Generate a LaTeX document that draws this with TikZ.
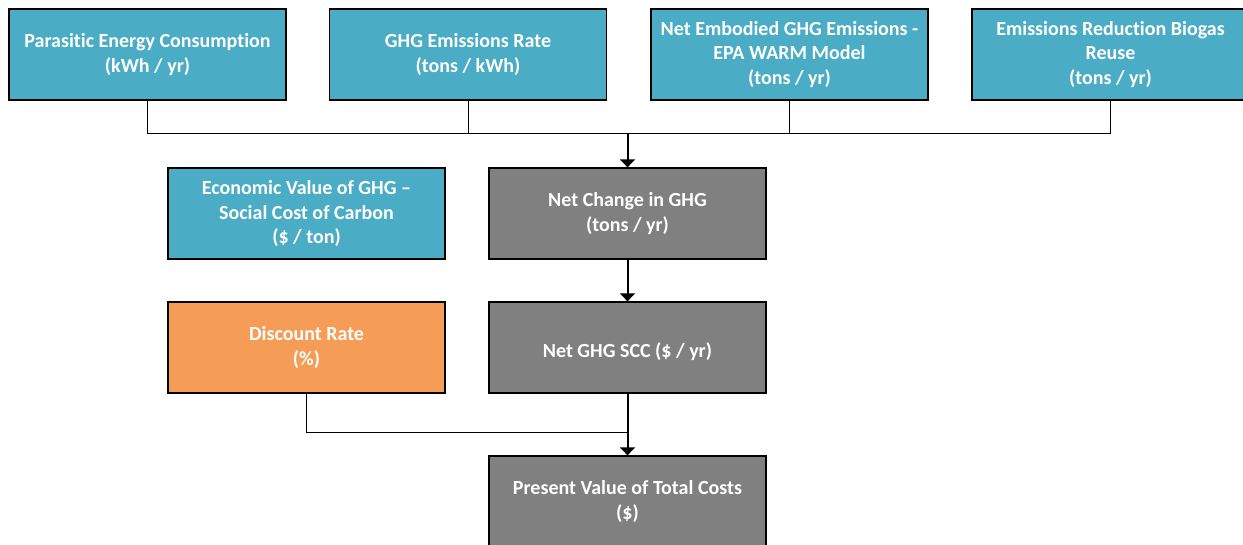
\documentclass[tikz,border=0pt]{standalone}
\usepackage{fontspec}
\setmainfont{Carlito}[RawFeature=-liga]
\usetikzlibrary{arrows.meta}
\definecolor{tealbox}{HTML}{4BACC6}
\definecolor{orangebox}{HTML}{F59D56}
\definecolor{graybox}{HTML}{808080}
\tikzset{
  box/.style={draw=black, line width=1.3pt, minimum width=277pt, minimum height=91pt,
    inner sep=0pt, align=center, text=white,
    font=\fontsize{20}{24.5}\selectfont\bfseries,
    execute at begin node={\rule{0pt}{23pt}}},
  inbox/.style={box, fill=tealbox},
  ratebox/.style={box, fill=orangebox},
  calcbox/.style={box, fill=graybox},
  wire/.style={draw=black, line width=1pt},
  feed/.style={draw=black, line width=2pt, -{Triangle[width=15pt,length=8pt]}},
}
\begin{document}
\begin{tikzpicture}[x=1pt, y=-1pt]
\useasboundingbox (0,0) rectangle (1243,545);

% input quantities
\node[inbox] (pec) at (147.5,54.5) {Parasitic Energy Consumption\\(kWh / yr)};
\node[inbox] (rate) at (468,54.5) {GHG Emissions Rate\\(tons / kWh)};
\node[inbox] (warm) at (789.5,54.5) {Net Embodied GHG Emissions -\\EPA WARM Model\\(tons / yr)};
\node[inbox] (bio) at (1110.5,54.5) {Emissions Reduction Biogas\\Reuse\\(tons / yr)};
\node[inbox] (scc) at (306.5,213.5) {Economic Value of GHG –\\Social Cost of Carbon\\(\$ / ton)};
\node[ratebox] (disc) at (306.5,347.5) {Discount Rate\\(\%)};

% derived quantities
\node[calcbox] (net) at (627.5,213.5) {Net Change in GHG\\(tons / yr)};
\node[calcbox] (ngs) at (627.5,347.5) {Net GHG SCC (\$ / yr)};
\node[calcbox] (pv) at (627.5,501.5) {Present Value of Total Costs\\(\$)};

% collecting bus of the four inputs
\coordinate (bus) at (627.5,134);
\draw[wire] (pec.south) |- (bus);
\draw[wire] (bio.south) |- (bus);
\draw[wire] (rate.south) -- (rate.south |- bus);
\draw[wire] (warm.south) -- (warm.south |- bus);
\draw[feed] (bus) -- (net.north);

\draw[feed] (net.south) -- (ngs.north);

% discounting joins the SCC flow
\coordinate (join) at (627.5,432.5);
\draw[wire] (disc.south) |- (join);
\draw[draw=black, line width=2pt] (ngs.south) -- (join);
\draw[feed] (join) -- (pv.north);
\end{tikzpicture}
\end{document}
